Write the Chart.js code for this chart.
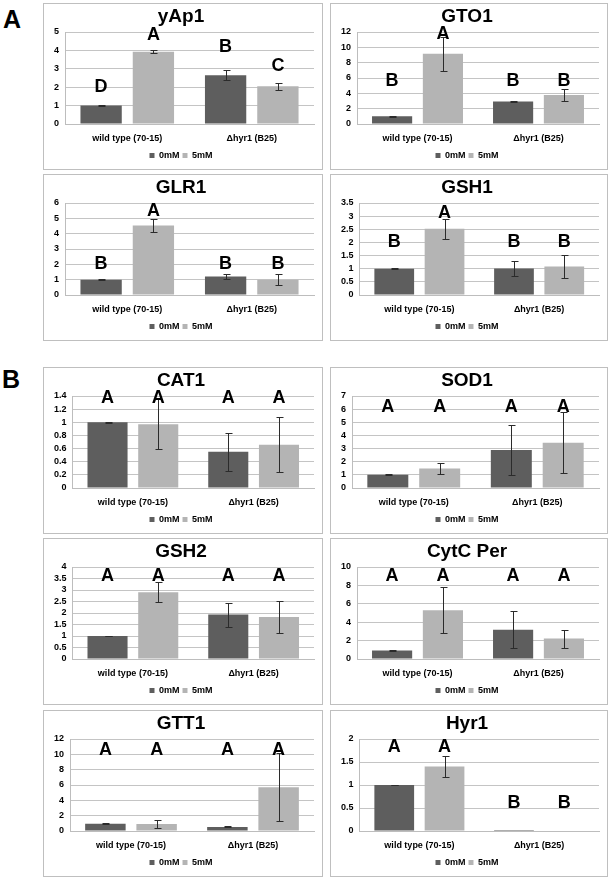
<!DOCTYPE html>
<html lang="en">
<head>
<meta charset="UTF-8">
<title>Expression panels</title>
<script src="https://cdn.jsdelivr.net/npm/chart.js"></script>
<style>
  body { margin: 0; background: #fff; font-family: 'Liberation Sans', Arial, sans-serif; }
  #page { position: relative; width: 613px; height: 881px; }
  .panel { position: absolute; border: 1px solid #bfbfbf; box-sizing: border-box; background: #fff; }
  .panel canvas { position: absolute; left: 0; top: 0; }
  .tag { position: absolute; font-weight: bold; font-size: 25px; line-height: 1.15; }
</style>
</head>
<body>
<div id="page">
  <div class="tag" style="left:3px;top:5px">A</div>
  <div class="tag" style="left:2px;top:365px">B</div>
</div>
<script>
// data
const groups = ['wild type (70-15)', 'Δhyr1 (B25)'];
const doses = ['0mM', '5mM'];
const genes = ['yAp1', 'GTO1', 'GLR1', 'GSH1', 'CAT1', 'SOD1', 'GSH2', 'CytC Per', 'GTT1', 'Hyr1'];

const mean0mM = [[1.0, 2.65], [1.0, 2.92], [1.0, 1.2], [1.0, 1.01], [1.0, 0.55],
                 [1.0, 2.9], [1.0, 1.93], [0.92, 3.18], [0.96, 0.53], [1.0, 0.02]];
const sd0mM   = [[0.02, 0.27], [0.05, 0.08], [0.02, 0.18], [0.01, 0.27], [0.01, 0.29],
                 [0.03, 1.93], [0.01, 0.52], [0.03, 2.0], [0.03, 0.06], [0.005, 0]];
const mean5mM = [[3.93, 2.05], [9.15, 3.78], [4.53, 1.0], [2.52, 1.08], [0.97, 0.66],
                 [1.48, 3.44], [2.9, 1.83], [5.3, 2.22], [0.9, 5.7], [1.4, 0.01]];
const sd5mM   = [[0.09, 0.18], [2.2, 0.82], [0.4, 0.35], [0.38, 0.45], [0.38, 0.42],
                 [0.43, 2.31], [0.43, 0.7], [2.5, 0.97], [0.5, 4.42], [0.22, 0]];

// significance letters and the axis value where each one sits
const letters0mM = [['D', 'B'], ['B', 'B'], ['B', 'B'], ['B', 'B'], ['A', 'A'],
                    ['A', 'A'], ['A', 'A'], ['A', 'A'], ['A', 'A'], ['A', 'B']];
const letters5mM = [['A', 'C'], ['A', 'B'], ['A', 'B'], ['A', 'B'], ['A', 'A'],
                    ['A', 'A'], ['A', 'A'], ['A', 'A'], ['A', 'A'], ['A', 'B']];
const letterAt0mM = [[2.05, 4.26], [5.8, 5.8], [2.1, 2.1], [2.05, 2.05], [1.39, 1.39],
                     [6.2, 6.2], [3.63, 3.63], [9.1, 9.1], [10.7, 10.7], [1.85, 0.63]];
const letterAt5mM = [[4.9, 3.18], [11.9, 5.8], [5.55, 2.1], [3.15, 2.05], [1.39, 1.39],
                     [6.2, 6.2], [3.63, 3.63], [9.1, 9.1], [10.7, 10.7], [1.85, 0.63]];

const yMax  = [5, 12, 6, 3.5, 1.4, 7, 4, 10, 12, 2];
const yStep = [1, 2, 1, 0.5, 0.2, 1, 0.5, 2, 2, 0.5];

const F = "'Liberation Sans', Arial, sans-serif";
Chart.defaults.font.family = F;

// error bars + letters
const annotate = {
  id: 'annotate',
  afterDatasetsDraw(chart) {
    const ctx = chart.ctx, y = chart.scales.y;
    ctx.save();
    chart.data.datasets.forEach((ds, d) => {
      chart.getDatasetMeta(d).data.forEach((bar, k) => {
        const v = ds.data[k], e = ds.sd[k];
        const x = Math.round(bar.x) + 0.5;
        if (e > 0) {
          const t = Math.round(y.getPixelForValue(v + e)) + 0.5;
          const b = Math.round(y.getPixelForValue(Math.max(v - e, 0))) + 0.5;
          ctx.strokeStyle = '#2b2b2b';
          ctx.lineWidth = 1;
          ctx.beginPath();
          ctx.moveTo(x, t); ctx.lineTo(x, b);
          ctx.moveTo(x - 3, t); ctx.lineTo(x + 4, t);
          ctx.moveTo(x - 3, b); ctx.lineTo(x + 4, b);
          ctx.stroke();
        }
        ctx.fillStyle = '#000';
        ctx.font = 'bold 18px ' + F;
        ctx.textAlign = 'center';
        ctx.textBaseline = 'middle';
        ctx.fillText(ds.letters[k], bar.x, y.getPixelForValue(ds.letterAt[k]) + 1);
      });
    });
    ctx.restore();
  }
};

const colX = [43, 330], colW = [280, 278];
const rowY = [3, 174, 367, 538, 710];
const page = document.getElementById('page');

genes.forEach((g, i) => {
  const col = i % 2, row = Math.floor(i / 2);
  const box = document.createElement('div');
  box.className = 'panel';
  box.style.left = colX[col] + 'px';
  box.style.top = rowY[row] + 'px';
  box.style.width = colW[col] + 'px';
  box.style.height = '167px';
  const cv = document.createElement('canvas');
  cv.width = colW[col] - 2;
  cv.height = 166;
  box.appendChild(cv);
  page.appendChild(box);

  const tickFont = { size: 9, weight: 'bold', family: F };
  new Chart(cv, {
    type: 'bar',
    data: {
      labels: groups,
      datasets: [
        { label: doses[0], data: mean0mM[i], sd: sd0mM[i], letters: letters0mM[i], letterAt: letterAt0mM[i],
          backgroundColor: '#5e5e5e', categoryPercentage: 0.84, barPercentage: 0.79 },
        { label: doses[1], data: mean5mM[i], sd: sd5mM[i], letters: letters5mM[i], letterAt: letterAt5mM[i],
          backgroundColor: '#b4b4b4', categoryPercentage: 0.84, barPercentage: 0.79 }
      ]
    },
    options: {
      responsive: false,
      animation: false,
      devicePixelRatio: 1,
      layout: { padding: { left: 4, right: 8, top: 0, bottom: 0 } },
      plugins: {
        title: { display: true, text: g, color: '#000',
                 font: { size: 19, weight: 'bold', family: F }, padding: { top: 1.5, bottom: 3.7 } },
        legend: { position: 'bottom',
                  labels: { boxWidth: 5, boxHeight: 5, padding: 3, color: '#000', font: tickFont } },
        tooltip: { enabled: false }
      },
      scales: {
        x: {
          grid: { display: false, drawTicks: false },
          border: { color: '#bdbdbd' },
          ticks: { font: tickFont, color: '#000', padding: 9, maxRotation: 0, autoSkip: false },
          afterFit(s) { s.height = 24; }
        },
        y: {
          min: 0, max: yMax[i],
          grid: { color: '#c4c4c4', drawTicks: false },
          border: { color: '#bdbdbd' },
          ticks: { stepSize: yStep[i], autoSkip: false, font: tickFont, color: '#000', padding: 6,
                   callback: v => String(+v.toFixed(2)) }
        }
      }
    },
    plugins: [annotate]
  });
});
</script>
</body>
</html>
